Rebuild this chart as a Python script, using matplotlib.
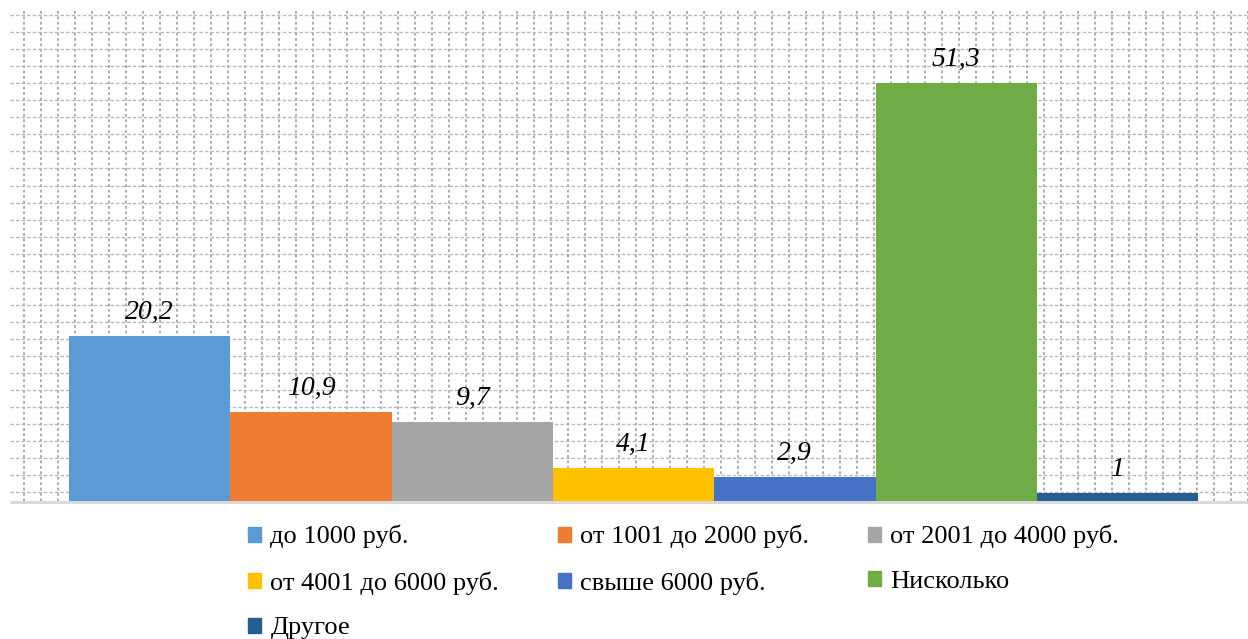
import matplotlib
matplotlib.use("Agg")
import matplotlib.pyplot as plt
from matplotlib.patches import Rectangle

categories = ["до 1000 руб.", "от 1001 до 2000 руб.", "от 2001 до 4000 руб.",
              "от 4001 до 6000 руб.", "свыше 6000 руб.", "Нисколько", "Другое"]
values = [20.2, 10.9, 9.7, 4.1, 2.9, 51.3, 1]
labels = ["20,2", "10,9", "9,7", "4,1", "2,9", "51,3", "1"]
colors = ["#5B9BD5", "#ED7D31", "#A5A5A5", "#FFC000", "#4472C4", "#70AD47", "#255E91"]

W, H = 1248, 639
fig = plt.figure(figsize=(W / 100, H / 100), dpi=100)
serif = ["Liberation Serif", "DejaVu Serif"]

# background grid (paper-like pattern)
bg = fig.add_axes([0, 0, 1, 1], zorder=0)
bg.set_xlim(0, W)
bg.set_ylim(H, 0)
bg.axis("off")
gx0, gy0, step = 24, 15, 17.05
xs = [gx0 + k * 17.0 for k in range(0, 80) if gx0 + k * 17.0 <= W]
ys = [gy0 + k * step for k in range(0, 40) if gy0 + k * step <= 500]
for x in xs:
    bg.plot([x, x], [11, 503], color="#a6a6a6", lw=1.3, ls=(0, (1.5, 1.5)))
for y in ys:
    bg.plot([10, W], [y, y], color="#b8b8b8", lw=1.0, ls=(0, (2.5, 1.5)))
bg.plot([10, W], [502, 502], color="#d9d9d9", lw=2.2, solid_capstyle="butt")

# main axes
left_px, right_px, base_px = 10, 1248, 501
ax = fig.add_axes([left_px / W, (H - base_px) / H, (right_px - left_px) / W,
                   (base_px - 11.7) / H], zorder=1)
ax.patch.set_alpha(0)
scale = 161.3
xmin = -0.5 - (69 - left_px) / scale
ax.set_xlim(xmin, xmin + (right_px - left_px) / scale)
ax.set_ylim(0, 60)
for s in ax.spines.values():
    s.set_visible(False)
ax.set_xticks([])
ax.set_yticks([])

pos = list(range(len(values)))
bars = ax.bar(pos, values, width=1.0, color=colors, zorder=2)
for p, v, lab in zip(pos, values, labels):
    ax.annotate(lab, (p, v), xytext=(0, 8), textcoords="offset points",
                ha="center", va="bottom", fontsize=20, style="italic",
                family=serif, color="black")

order = [0, 3, 6, 1, 4, 2, 5]
handles = [Rectangle((0, 0), 1, 1, color=colors[i]) for i in order]
leg = fig.legend(handles, [categories[i] for i in order], ncol=3,
                 loc="upper left", bbox_to_anchor=(248 / W, 1 - 525 / H),
                 frameon=False, prop={"family": serif, "size": 19},
                 handlelength=0.5, handleheight=0.5, handletextpad=0.35,
                 columnspacing=2.22, labelspacing=0.86, borderaxespad=0,
                 borderpad=0)

fig.savefig("out.png", dpi=100)
